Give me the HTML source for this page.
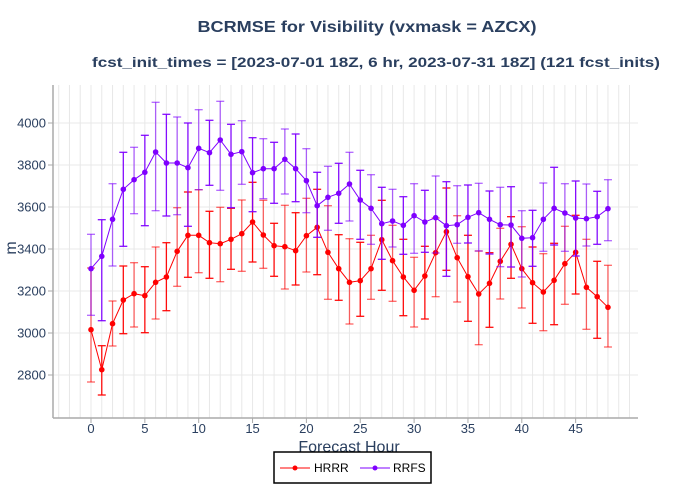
<!DOCTYPE html>
<html><head><meta charset="utf-8"><style>
body{margin:0;background:#fff;}
svg{display:block;font-family:"Liberation Sans",sans-serif;}
</style></head><body>
<svg id="s" width="700" height="500" viewBox="0 0 700 500" xmlns="http://www.w3.org/2000/svg">
<rect width="700" height="500" fill="#fff"/>
<text x="367" y="32" text-anchor="middle" font-size="16" font-weight="bold" fill="#2a3f5f" textLength="339" lengthAdjust="spacingAndGlyphs">BCRMSE for Visibility (vxmask = AZCX)</text>
<text x="376" y="67" text-anchor="middle" font-size="14" font-weight="bold" fill="#2a3f5f" textLength="568" lengthAdjust="spacingAndGlyphs">fcst_init_times = [2023-07-01 18Z, 6 hr, 2023-07-31 18Z] (121 fcst_inits)</text>
<g id="grid"></g>
<g id="data"></g>
<line x1="53" y1="85" x2="53" y2="418" stroke="#aaa" stroke-width="1.5"/>
<line x1="53" y1="418" x2="638" y2="418" stroke="#aaa" stroke-width="1.5"/>
<g id="labels" font-size="13" fill="#2a3f5f"></g>
<text x="349" y="452" text-anchor="middle" font-size="16" fill="#2a3f5f">Forecast Hour</text>
<text x="16" y="248" text-anchor="middle" font-size="16" fill="#2a3f5f" transform="rotate(-90 16 248)">m</text>
<rect x="274" y="452" width="157" height="31" fill="#fff" stroke="#000" stroke-width="1.5"/>
<line x1="280" y1="468" x2="310" y2="468" stroke="#f00" stroke-width="1"/><circle cx="295" cy="468" r="2.5" fill="#f00"/>
<text x="314" y="472" font-size="12" fill="#000">HRRR</text>
<line x1="360" y1="468" x2="390" y2="468" stroke="#7f00ff" stroke-width="1"/><circle cx="375" cy="468" r="2.5" fill="#7f00ff"/>
<text x="393" y="472" font-size="12" fill="#000">RRFS</text>
</svg>
<script>
const H=[[329.7,382,268],[369.7,395,345.7],[323.7,346,301],[300,333.7,266],[293.7,327,262.7],[295.7,332.7,266.7],[282.3,319,247],[277,310.7,242.7],[251.3,286.3,207.7],[235.3,277.3,192],[235.3,272.7,189.7],[242.7,278.3,211.3],[243.7,281.7,207.3],[239.3,269.3,208.3],[233.7,271.3,200],[222,262,182.3],[235,268.3,200.3],[245.7,276.3,223.3],[246.7,289,205.3],[250.7,285,212.7],[235.7,272,198.3],[227.3,274.7,189.3],[252.3,299.3,205.7],[268.7,300.3,234.7],[282.3,324,238.7],[280.7,316.3,242.3],[268.7,299.3,235.3],[239.7,290.3,200.3],[260.7,301.3,225.3],[277,315.7,239.3],[290.3,327,257.3],[276,319,246.3],[252.7,296.7,218],[231.7,270.3,188],[257.7,302,215.7],[276.7,321.3,235.3],[294,344.7,251],[283.3,327.3,252.7],[261.3,299,228.3],[244.3,278.3,216.7],[268.7,308,226.7],[282.7,323.3,247],[292,330.7,253.7],[280.3,324.7,243.3],[263.7,304.3,226.3],[252.3,294,215.3],[287.3,329.3,239.3],[296.7,338.3,261.3],[307.3,347,265.3]];
const R=[[268.7,315.3,234.3],[256.3,320.7,219.7],[219.3,266,183.7],[189.3,246.3,152.3],[179.7,213.7,147.3],[172.3,225.7,135.3],[152,210.7,102.3],[163,216,114.3],[163,214.7,117],[167.7,226.3,123],[148.3,189.7,109.7],[152.7,185.3,120.3],[140,190.3,101.3],[154.3,207.7,124.3],[151.7,184.3,120.7],[172.7,211.7,137.7],[168.7,198.7,138.7],[168.7,203.3,142.3],[159.3,194,129],[168.7,201.7,134],[180.7,212.7,148.7],[205.7,237.3,172.3],[197.3,230.3,166.3],[193.3,223.3,163.3],[184,221,152.3],[200,239.3,170.3],[208.3,244.3,174.7],[223.7,259.3,187.3],[221,247,189.3],[225.3,254.3,196.7],[215.7,253.3,183.7],[222,252.3,190.3],[217.7,253,176],[225.7,276.3,181.7],[224.7,243.3,185.7],[217.3,243,185],[212.7,251,183.3],[219.3,254,191],[224.7,266.7,187.3],[225,267,186.7],[238.3,277,210.7],[237.7,266.3,210.3],[219.3,251.3,183],[208.3,245,167.3],[213,251.3,183.7],[218,256,181],[218.7,246,184],[216.7,244.3,191.3],[208.7,240.7,179.7]];
const X=i=>91+i*10.77;
let g='';
for(let i=-3;i<=51;i++){const x=X(i);if(x>54&&x<638)g+=`<line x1="${x}" y1="85" x2="${x}" y2="418" stroke="#e8e8e8" stroke-width="1"/>`;}
for(let v=2800;v<=4000;v+=200){const y=123+(4000-v)*0.21;g+=`<line x1="53" y1="${y}" x2="638" y2="${y}" stroke="#e8e8e8" stroke-width="1"/><line x1="48" y1="${y}" x2="53" y2="${y}" stroke="#aaa"/>`;}
document.getElementById('grid').innerHTML=g;
let l='';
for(let v=2800;v<=4000;v+=200){const y=123+(4000-v)*0.21;l+=`<text x="46" y="${y+4.5}" text-anchor="end">${v}</text>`;}
for(let t=0;t<=45;t+=5){const x=X(t);l+=`<text x="${x}" y="433" text-anchor="middle">${t}</text><line x1="${x}" y1="418" x2="${x}" y2="423" stroke="#aaa"/>`;}
document.getElementById('labels').innerHTML=l;
function ser(D,c){let s='';D.forEach((d,i)=>{const x=X(i);const op=i%2?0.95:0.6;s+=`<g stroke="${c}" stroke-opacity="${op}" stroke-width="1.3"><line x1="${x}" y1="${d[1]}" x2="${x}" y2="${d[2]}"/><line x1="${x-4}" y1="${d[1]}" x2="${x+4}" y2="${d[1]}"/><line x1="${x-4}" y1="${d[2]}" x2="${x+4}" y2="${d[2]}"/></g>`;});
s+=`<polyline fill="none" stroke="${c}" stroke-width="1" points="${D.map((d,i)=>X(i)+','+d[0]).join(' ')}"/>`;
D.forEach((d,i)=>{s+=`<circle cx="${X(i)}" cy="${d[0]}" r="2.8" fill="${c}"/>`;});return s;}
document.getElementById('data').innerHTML=ser(H,'#ff0000')+ser(R,'#7f00ff');
</script>
</body></html>
